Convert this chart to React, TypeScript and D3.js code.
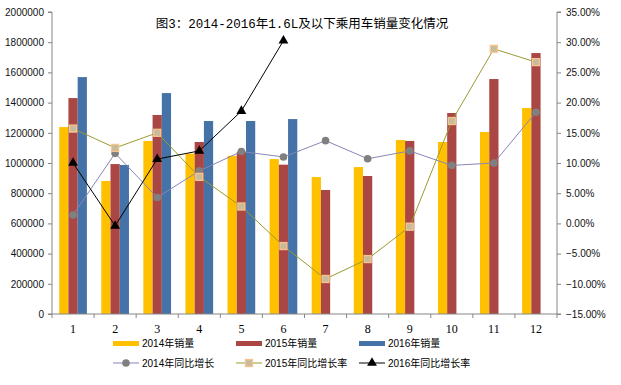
import React, { useRef, useEffect } from 'react';
import * as d3 from 'd3';

// 月份
const months = ['1', '2', '3', '4', '5', '6', '7', '8', '9', '10', '11', '12'];

// 销量（辆）
const sales2014 = [1238000, 881000, 1146000, 1062000, 1048000, 1026000, 907000, 973000, 1152000, 1139000, 1205000, 1364000];
const sales2015 = [1430000, 993000, 1318000, 1139000, 1075000, 989000, 821000, 914000, 1146000, 1331000, 1556000, 1728000];
const sales2016 = [1569000, 987000, 1463000, 1278000, 1278000, 1291000];

// 同比增长率（%）
const growth2014 = [1.4, 11.6, 4.3, 8.7, 11.9, 11.0, 13.7, 10.7, 12.0, 9.6, 10.0, 18.4];
const growth2015 = [15.7, 12.5, 15.0, 7.7, 2.8, -3.75, -9.2, -5.9, -0.55, 16.95, 28.9, 26.7];
const growth2016 = [10.0, -0.4, 10.65, 12.0, 18.6, 30.25];

const leftTicks = [0, 200000, 400000, 600000, 800000, 1000000, 1200000, 1400000, 1600000, 1800000, 2000000];
const rightTicks = [-15, -10, -5, 0, 5, 10, 15, 20, 25, 30, 35];

const barSeries = ['2014年销量', '2015年销量', '2016年销量'];
const lineSeries = ['2014年同比增长', '2015年同比增长率', '2016年同比增长率'];

const title = '图3：2014-2016年1.6L及以下乘用车销量变化情况';

export default function App() {
  const svgRef = useRef<SVGSVGElement>(null);

  useEffect(() => {
    document.body.style.margin = '0';

    const width = 621;
    const height = 385;
    const left = 52;
    const right = 557;
    const top = 12;
    const bottom = 314;

    const svg = d3.select(svgRef.current);
    svg.selectAll('*').remove();
    svg.attr('width', width).attr('height', height);

    const latin = "'Liberation Sans', 'Noto Sans CJK SC', sans-serif";
    const axisColor = '#868686';
    const barColors = ['#FFC000', '#AA4643', '#4572A7'];

    const x = d3.scaleBand<string>().domain(months).range([left, right]).padding(0);
    const xInner = d3.scaleBand<string>()
      .domain(['0', '1', '2'])
      .range([0, x.bandwidth()])
      .paddingInner(0)
      .paddingOuter(0.78);
    const yL = d3.scaleLinear().domain([0, 2000000]).range([bottom, top]);
    const yR = d3.scaleLinear().domain([-15, 35]).range([bottom, top]);
    const cx = (i: number) => x(months[i])! + x.bandwidth() / 2;

    // 柱形
    const allSales = [sales2014, sales2015, sales2016];
    allSales.forEach((vals, s) => {
      svg.append('g')
        .selectAll('rect')
        .data(vals)
        .enter()
        .append('rect')
        .attr('x', (d, i) => x(months[i])! + xInner(String(s))!)
        .attr('width', xInner.bandwidth())
        .attr('y', d => yL(d))
        .attr('height', d => bottom - yL(d))
        .attr('fill', barColors[s]);
    });

    // 坐标轴
    const axL = svg.append('g')
      .attr('transform', `translate(${left},0)`)
      .call(d3.axisLeft(yL).tickValues(leftTicks).tickSize(4).tickPadding(4).tickFormat(d3.format('d') as any));
    axL.selectAll('text').style('font-family', latin).style('font-size', '10px').attr('fill', '#111');

    const axR = svg.append('g')
      .attr('transform', `translate(${right},0)`)
      .call(d3.axisRight(yR).tickValues(rightTicks).tickSize(4).tickPadding(5).tickFormat(d => d3.format('.2f')(d as number) + '%'));
    axR.selectAll('text').style('font-family', latin).style('font-size', '10px').attr('fill', '#111');

    const axB = svg.append('g')
      .attr('transform', `translate(0,${bottom})`)
      .call(d3.axisBottom(x).tickSize(0).tickPadding(10));
    axB.selectAll('text')
      .style('font-family', "'Liberation Serif', serif")
      .style('font-size', '12px')
      .attr('fill', '#000');
    // 类别分隔刻度
    axB.selectAll('line.sep')
      .data(d3.range(months.length + 1))
      .enter()
      .append('line')
      .attr('class', 'sep')
      .attr('x1', i => left + i * x.step())
      .attr('x2', i => left + i * x.step())
      .attr('y1', 0)
      .attr('y2', 4)
      .attr('stroke', axisColor);

    [axL, axR, axB].forEach(a => {
      a.selectAll('.domain').attr('stroke', axisColor);
      a.selectAll('.tick line').attr('stroke', axisColor);
    });
    axL.select('.domain').attr('d', `M-4,${top}H0V${bottom}H-4`);
    axR.select('.domain').attr('d', `M4,${top}H0V${bottom}H4`);
    axB.select('.domain').attr('d', `M${left},0H${right}`);

    // 折线
    const line = d3.line<number>().x((d, i) => cx(i)).y(d => yR(d));
    const lineColors = ['#8886B6', '#9C9A30', '#000000'];
    const allGrowth = [growth2014, growth2015, growth2016];
    allGrowth.forEach((vals, s) => {
      svg.append('path')
        .datum(vals)
        .attr('d', line)
        .attr('fill', 'none')
        .attr('stroke', lineColors[s])
        .attr('stroke-width', 1);
    });

    const drawMarker = (g: d3.Selection<any, any, any, any>, s: number, px: number, py: number) => {
      if (s === 0) {
        g.append('circle').attr('cx', px).attr('cy', py).attr('r', 3.8).attr('fill', '#808080');
      } else if (s === 1) {
        g.append('rect')
          .attr('x', px - 3.5).attr('y', py - 3.5).attr('width', 7).attr('height', 7)
          .attr('fill', '#C6BC9B').attr('stroke', '#F7C48E').attr('stroke-width', 1.3);
      } else {
        const tri = d3.symbol().type(d3.symbolTriangle).size(42);
        g.append('path').attr('d', tri()!).attr('transform', `translate(${px},${py})`).attr('fill', '#000');
      }
    };

    allGrowth.forEach((vals, s) => {
      const g = svg.append('g');
      vals.forEach((v, i) => drawMarker(g, s, cx(i), yR(v)));
    });

    // 标题
    svg.append('text')
      .attr('x', 302)
      .attr('y', 28)
      .attr('text-anchor', 'middle')
      .style('font-family', "'Liberation Mono', 'Noto Sans CJK SC', monospace")
      .style('font-size', '12.5px')
      .attr('fill', '#000')
      .text(title);

    // 图例
    const legendX = [113, 236, 359];
    const legend = svg.append('g').style('font-family', latin).style('font-size', '10px');
    barSeries.forEach((name, s) => {
      legend.append('rect').attr('x', legendX[s]).attr('y', 341).attr('width', 26).attr('height', 5).attr('fill', barColors[s]);
      legend.append('text').attr('x', legendX[s] + 29).attr('y', 347).attr('fill', '#000').text(name);
    });
    lineSeries.forEach((name, s) => {
      legend.append('line')
        .attr('x1', legendX[s]).attr('x2', legendX[s] + 26)
        .attr('y1', 363).attr('y2', 363)
        .attr('stroke', lineColors[s]).attr('stroke-width', 1);
      drawMarker(legend, s, legendX[s] + 13, 363);
      legend.append('text').attr('x', legendX[s] + 29).attr('y', 367).attr('fill', '#000').text(name);
    });
  }, []);

  return <svg ref={svgRef} width={621} height={385} style={{ display: 'block' }} />;
}
